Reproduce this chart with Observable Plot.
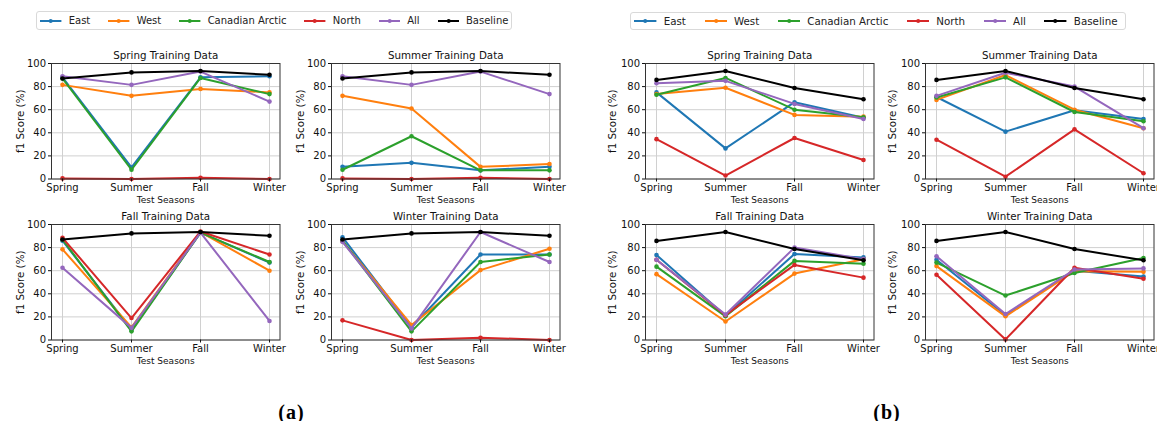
<!DOCTYPE html>
<html><head><meta charset="utf-8">
<script src="https://cdn.jsdelivr.net/npm/d3@7"></script>
<script src="https://cdn.jsdelivr.net/npm/@observablehq/plot@0.6"></script>
<style>
body{margin:0;background:#fff;font-family:"DejaVu Sans",sans-serif;}
#root{position:relative;width:1157px;height:421px;overflow:hidden;background:#fff;}
.panel{position:absolute;width:300px;}
.panel svg{max-width:none !important;}
.legend{position:absolute;display:flex;align-items:center;border:1px solid #d9d9d9;border-radius:3px;background:#fff;box-sizing:border-box;font-family:"DejaVu Sans",sans-serif;color:#222;}
.item{display:flex;align-items:center;white-space:nowrap;}
.tag{position:absolute;font-family:"Liberation Serif",serif;font-weight:bold;font-size:20px;transform:translate(-50%,-50%);letter-spacing:1px;}
</style></head><body><div id="root"></div>
<script>
const seasons = ["Spring", "Summer", "Fall", "Winter"];
const seriesNames = ["East", "West", "Canadian Arctic", "North", "All", "Baseline"];
const seriesColors = ["#1f77b4", "#ff7f0e", "#2ca02c", "#d62728", "#9467bd", "#000000"];
const panelTitles = ["Spring Training Data", "Summer Training Data", "Fall Training Data", "Winter Training Data"];
const yTicks = [0, 20, 40, 60, 80, 100];
const xLabel = "Test Seasons";
const yLabel = "f1 Score (%)";
const groupTags = ["(a)", "(b)"];

// rows: East, West, Canadian Arctic, North, All, Baseline; columns: Spring, Summer, Fall, Winter
const aSpring = [
  [88, 10, 88, 89],
  [81.5, 72, 78, 75],
  [87, 8, 87.5, 73.5],
  [0.5, 0, 1, 0],
  [89, 81.5, 93, 67],
  [87, 92.3, 93.5, 90.2]
];
const aSummer = [
  [10.5, 14, 7.5, 10.5],
  [72, 61, 10.5, 13],
  [8, 37, 7.5, 7.5],
  [0.5, 0, 1, 0],
  [89, 81.5, 93, 73.5],
  [87, 92.3, 93.5, 90.2]
];
const aFall = [
  [86, 9, 93, 67],
  [78.5, 11, 93.5, 60],
  [87, 7.5, 93, 67.5],
  [88.5, 19, 94, 74],
  [62.5, 10.5, 93, 16.5],
  [87, 92.3, 93.5, 90.2]
];
const aWinter = [
  [89, 11, 74, 74],
  [85.5, 13, 60.5, 79],
  [86, 7.5, 67.5, 74],
  [17, 0, 2, 0],
  [85, 10, 93.5, 67.5],
  [87, 92.3, 93.5, 90.2]
];
const bSpring = [
  [75, 26.5, 66.5, 53],
  [73.5, 79, 55.5, 54],
  [73, 87.5, 60, 53.5],
  [34.5, 3, 35.5, 16.5],
  [83, 85, 65, 52],
  [85.8, 93.5, 78.8, 69]
];
const bSummer = [
  [71, 41, 59.5, 52],
  [68.5, 90, 60, 44],
  [70.5, 88, 58, 50],
  [34, 2, 43, 5],
  [72, 92, 80, 44],
  [85.8, 93.5, 78.8, 69]
];
const bFall = [
  [73.5, 21, 74.5, 71.5],
  [57, 16, 57.5, 70],
  [63.5, 20.5, 68.5, 66],
  [69.5, 21.5, 65, 54],
  [69.5, 22, 80, 70],
  [85.8, 93.5, 78.8, 69]
];
const bWinter = [
  [69.5, 21.5, 60, 55],
  [64, 20.5, 59.5, 59],
  [67, 38.5, 58, 71],
  [56.5, 0.5, 62.5, 53],
  [72.5, 22.5, 61, 62],
  [85.8, 93.5, 78.8, 69]
];

const root = document.getElementById("root");
const mL = 45, mR = 5, mT = 22, mB = 32, fw = 228.5, fh = 115.5;
const FF = "DejaVu Sans";

function panel(rows, title, frameLeft, frameTop, ylabelDx) {
  const data = [];
  seriesNames.forEach((s, i) => seasons.forEach((q, j) => data.push({series: s, season: q, value: rows[i][j]})));
  const marks = [
    Plot.gridX(seasons, {stroke: "#d0d0d0", strokeOpacity: 1, strokeWidth: 1}),
    Plot.gridY(yTicks, {stroke: "#d0d0d0", strokeOpacity: 1, strokeWidth: 1})
  ];
  seriesNames.forEach(s => {
    const d = data.filter(r => r.series === s);
    marks.push(Plot.line(d, {x: "season", y: "value", stroke: "series", strokeWidth: 2}));
    marks.push(Plot.dot(d, {x: "season", y: "value", fill: "series", r: 2.3}));
  });
  marks.push(Plot.frame({stroke: "#333", strokeWidth: 1}));
  marks.push(Plot.axisX({tickSize: 3, tickPadding: 1.5, fontSize: 10, fontFamily: FF, label: null}));
  marks.push(Plot.axisY(yTicks, {tickSize: 3, tickPadding: 2.5, fontSize: 10, fontFamily: FF, label: null}));
  marks.push(Plot.text([title], {text: d => d, frameAnchor: "top", dy: -8, lineAnchor: "middle", textAnchor: "middle", fontSize: 10.3, fontFamily: FF}));
  marks.push(Plot.text([xLabel], {text: d => d, frameAnchor: "bottom", dy: 21.5, lineAnchor: "middle", textAnchor: "middle", fontSize: 9, fontFamily: FF}));
  marks.push(Plot.text([yLabel], {text: d => d, frameAnchor: "left", dx: ylabelDx, rotate: -90, lineAnchor: "middle", textAnchor: "middle", fontSize: 10.3, fontFamily: FF}));
  const svg = Plot.plot({
    width: mL + fw + mR, height: mT + fh + mB,
    marginLeft: mL, marginRight: mR, marginTop: mT, marginBottom: mB,
    x: {type: "point", domain: seasons, padding: 0.15},
    y: {domain: [0, 100]},
    color: {domain: seriesNames, range: seriesColors},
    style: {fontFamily: FF, fontSize: "10px", background: "transparent", color: "#111", overflow: "visible", maxWidth: "none"},
    marks
  });
  const wrap = document.createElement("div");
  wrap.className = "panel";
  wrap.style.left = (frameLeft - mL) + "px";
  wrap.style.top = (frameTop - mT) + "px";
  wrap.appendChild(svg);
  root.appendChild(wrap);
}

function legend(left, top, width, height, fontSize, swW, textGap, itemGap, pad) {
  const box = document.createElement("div");
  box.className = "legend";
  Object.assign(box.style, {left: left + "px", top: top + "px", width: width + "px", height: height + "px", paddingLeft: pad + "px", fontSize: fontSize + "px", gap: itemGap + "px"});
  seriesNames.forEach((s, i) => {
    const it = document.createElement("div");
    it.className = "item";
    it.style.gap = textGap + "px";
    it.innerHTML = `<svg width="${swW}" height="10"><line x1="0" x2="${swW}" y1="5" y2="5" stroke="${seriesColors[i]}" stroke-width="2"/><circle cx="${swW/2}" cy="5" r="2" fill="${seriesColors[i]}"/></svg><span>${s}</span>`;
    box.appendChild(it);
  });
  root.appendChild(box);
}

function tag(text, cx, cy) {
  const t = document.createElement("div");
  t.className = "tag";
  t.textContent = text;
  t.style.left = cx + "px";
  t.style.top = cy + "px";
  root.appendChild(t);
}

const topRow = 62.7, botRow = 224.3;
panel(aSpring, panelTitles[0], 50.7, topRow, -30.7);
panel(aSummer, panelTitles[1], 330.7, topRow, -30.7);
panel(aFall, panelTitles[2], 50.7, botRow, -30.7);
panel(aWinter, panelTitles[3], 330.7, botRow, -30.7);
panel(bSpring, panelTitles[0], 645, topRow, -32.7);
panel(bSummer, panelTitles[1], 925, topRow, -32.7);
panel(bFall, panelTitles[2], 645, botRow, -32.7);
panel(bWinter, panelTitles[3], 925, botRow, -32.7);

legend(36, 11.3, 476, 19, 10, 21.4, 7, 18, 3.3);
legend(630, 11.7, 496, 18.5, 10.3, 22.4, 7, 18.6, 3.3);

tag(groupTags[0], 291.5, 411.7);
tag(groupTags[1], 887, 411.7);
</script></body></html>
